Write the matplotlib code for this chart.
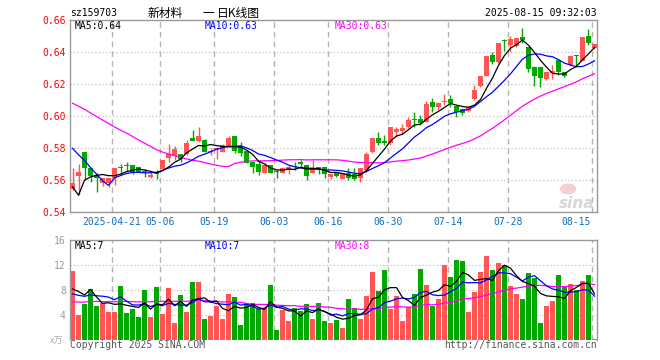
import numpy as np
import pandas as pd
import matplotlib

matplotlib.use("Agg")
import matplotlib.pyplot as plt
from matplotlib.patches import Ellipse

# daily K bars, 2025-04-10 .. 2025-08-15 (88 sessions)
opens = [
    0.5546, 0.5625, 0.5775, 0.5677, 0.5631, 0.5583, 0.5580, 0.5615, 0.5677, 0.5693,
    0.5693, 0.5679, 0.5652, 0.5617, 0.5640, 0.5667, 0.5735, 0.5752, 0.5763, 0.5761,
    0.5863, 0.5844, 0.5850, 0.5775, 0.5790, 0.5777, 0.5808, 0.5877, 0.5813, 0.5783,
    0.5715, 0.5700, 0.5646, 0.5694, 0.5652, 0.5646, 0.5663, 0.5684, 0.5715, 0.5694,
    0.5642, 0.5683, 0.5683, 0.5621, 0.5642, 0.5606, 0.5642, 0.5635, 0.5610, 0.5662,
    0.5777, 0.5865, 0.5844, 0.5829, 0.5902, 0.5908, 0.5929, 0.5979, 0.5979, 0.5965,
    0.6090, 0.6058, 0.6085, 0.6104, 0.6065, 0.6044, 0.6029, 0.6106, 0.6190, 0.6252,
    0.6381, 0.6335, 0.6477, 0.6446, 0.6440, 0.6496, 0.6433, 0.6304, 0.6308, 0.6231,
    0.6267, 0.6350, 0.6273, 0.6321, 0.6377, 0.6346, 0.6500, 0.6425,
]
highs = [
    0.5675, 0.5698, 0.5775, 0.5677, 0.5642, 0.5610, 0.5613, 0.5677, 0.5700, 0.5715,
    0.5693, 0.5679, 0.5669, 0.5652, 0.5662, 0.5727, 0.5823, 0.5815, 0.5763, 0.5852,
    0.5913, 0.5931, 0.5858, 0.5798, 0.5808, 0.5825, 0.5877, 0.5877, 0.5837, 0.5783,
    0.5715, 0.5720, 0.5704, 0.5694, 0.5663, 0.5683, 0.5694, 0.5715, 0.5725, 0.5694,
    0.5725, 0.5683, 0.5683, 0.5642, 0.5652, 0.5642, 0.5673, 0.5673, 0.5677, 0.5777,
    0.5865, 0.5902, 0.5881, 0.5933, 0.5933, 0.5948, 0.5996, 0.6027, 0.6006, 0.6096,
    0.6115, 0.6090, 0.6135, 0.6131, 0.6065, 0.6048, 0.6065, 0.6196, 0.6252, 0.6377,
    0.6398, 0.6454, 0.6481, 0.6502, 0.6490, 0.6550, 0.6433, 0.6315, 0.6308, 0.6277,
    0.6321, 0.6350, 0.6273, 0.6377, 0.6381, 0.6492, 0.6546, 0.6450,
]
lows = [
    0.5535, 0.5506, 0.5600, 0.5590, 0.5523, 0.5560, 0.5555, 0.5570, 0.5635, 0.5658,
    0.5640, 0.5648, 0.5621, 0.5610, 0.5606, 0.5663, 0.5715, 0.5725, 0.5715, 0.5757,
    0.5844, 0.5840, 0.5777, 0.5756, 0.5729, 0.5772, 0.5804, 0.5767, 0.5750, 0.5704,
    0.5646, 0.5629, 0.5642, 0.5642, 0.5610, 0.5642, 0.5638, 0.5663, 0.5673, 0.5600,
    0.5642, 0.5638, 0.5610, 0.5606, 0.5617, 0.5604, 0.5600, 0.5600, 0.5590, 0.5652,
    0.5767, 0.5819, 0.5819, 0.5819, 0.5871, 0.5888, 0.5923, 0.5933, 0.5944, 0.5965,
    0.6027, 0.6038, 0.6069, 0.6058, 0.5992, 0.6006, 0.6023, 0.6100, 0.6179, 0.6248,
    0.6325, 0.6329, 0.6408, 0.6398, 0.6433, 0.6454, 0.6273, 0.6190, 0.6179, 0.6225,
    0.6231, 0.6258, 0.6242, 0.6315, 0.6315, 0.6342, 0.6446, 0.6419,
]
closes = [
    0.5581, 0.5650, 0.5677, 0.5625, 0.5610, 0.5610, 0.5613, 0.5677, 0.5673, 0.5688,
    0.5652, 0.5652, 0.5648, 0.5631, 0.5636, 0.5727, 0.5760, 0.5796, 0.5734, 0.5830,
    0.5846, 0.5873, 0.5777, 0.5783, 0.5797, 0.5817, 0.5862, 0.5783, 0.5767, 0.5708,
    0.5683, 0.5648, 0.5694, 0.5642, 0.5648, 0.5677, 0.5683, 0.5680, 0.5702, 0.5625,
    0.5677, 0.5663, 0.5635, 0.5637, 0.5625, 0.5642, 0.5610, 0.5606, 0.5677, 0.5763,
    0.5865, 0.5833, 0.5829, 0.5929, 0.5917, 0.5923, 0.5975, 0.5975, 0.5954, 0.6075,
    0.6058, 0.6083, 0.6096, 0.6079, 0.6023, 0.6017, 0.6058, 0.6163, 0.6252, 0.6377,
    0.6335, 0.6454, 0.6471, 0.6483, 0.6487, 0.6477, 0.6294, 0.6248, 0.6235, 0.6273,
    0.6283, 0.6273, 0.6248, 0.6373, 0.6373, 0.6492, 0.6454, 0.6450,
]
# volume, 万手
volumes = [
    11.0, 4.0, 5.8, 8.2, 5.4, 5.9, 4.5, 4.5, 8.6, 4.3,
    5.0, 3.7, 8.0, 3.7, 8.5, 4.2, 8.3, 2.7, 7.2, 4.5,
    9.3, 9.3, 3.4, 3.8, 5.4, 3.4, 7.4, 6.9, 2.4, 5.9,
    5.9, 5.0, 5.1, 8.8, 1.6, 4.8, 3.0, 5.1, 4.6, 5.8,
    3.4, 5.9, 3.0, 2.7, 3.2, 1.9, 6.6, 5.1, 3.4, 7.0,
    10.9, 7.8, 11.2, 5.0, 7.0, 3.0, 5.3, 7.4, 11.4, 8.8,
    5.4, 6.6, 12.0, 10.1, 12.8, 12.6, 4.5, 7.7, 10.9, 13.4,
    11.2, 12.3, 12.0, 8.6, 7.3, 6.6, 10.7, 9.9, 2.7, 5.4,
    6.2, 10.4, 8.5, 9.0, 8.0, 9.4, 10.4, 0.2,
]

# the 29 sessions before the window are off-chart; these are backed out of
# where the MA lines start so the averages warm up like the original
prev_closes = [
    0.622, 0.626, 0.630, 0.628, 0.625, 0.629, 0.632, 0.627, 0.624, 0.628,
    0.630, 0.626, 0.623, 0.628, 0.616, 0.612, 0.609, 0.611, 0.608, 0.608,
    0.606, 0.603, 0.607, 0.602, 0.602, 0.591, 0.521, 0.552, 0.5565,
]
prev_volumes = [
    5.2, 6.1, 4.8, 5.5, 7.0, 4.6, 5.3, 6.2, 4.9, 5.8,
    5.1, 6.4, 4.7, 5.6, 5.0, 6.8, 4.5, 5.9, 5.3, 4.9,
    6.2, 7.4, 5.9, 6.8, 6.6, 6.0, 8.6, 3.7, 11.5,
]

date_idx = [7, 15, 24, 34, 43, 53, 63, 73, 87]
date_labels = ["2025-04-21", "05-06", "05-19", "06-03", "06-16",
               "06-30", "07-14", "07-28", "08-15"]

RED = "#ff5555"
GREEN = "#00a800"
GRID = "#b4b4b4"
FRAME = "#999999"
MONO = "DejaVu Sans Mono"
CJK = ["Noto Sans CJK SC", "DejaVu Sans"]


def moving_avg(prev, cur, n):
    s = pd.Series(list(prev) + list(cur), dtype=float)
    return s.rolling(n).mean().to_numpy()[len(prev):]


o = np.array(opens)
h = np.array(highs)
l = np.array(lows)
c = np.array(closes)
v = np.array(volumes)
x = np.arange(len(c))
colors = np.where(c >= o, RED, GREEN)

W, H = 660, 360
fig = plt.figure(figsize=(W / 100, H / 100), dpi=100)
ax = fig.add_axes([70 / W, 1 - 212 / H, 527 / W, 192 / H])
axv = fig.add_axes([70 / W, 1 - 340 / H, 527 / W, 100 / H])

xlim = (-0.42, len(c) - 1 + 0.42)
for a in (ax, axv):
    a.set_xlim(*xlim)
    a.set_xticks([])
    for s in a.spines.values():
        s.set_color(FRAME)
        s.set_linewidth(1.0)
    for i in date_idx:
        a.axvline(i - 0.42, color=GRID, lw=1.0, ls=(0, (4, 3)), zorder=0)

# price panel
ax.set_ylim(0.54, 0.66)
for yv in [0.56, 0.58, 0.60, 0.62, 0.64]:
    ax.axhline(yv, color=GRID, lw=0.8, ls=(0, (1, 2.2)), zorder=0)
ax.set_yticks([0.54, 0.56, 0.58, 0.60, 0.62, 0.64, 0.66])
ax.set_yticklabels([f"{t:.2f}" for t in ax.get_yticks()], family=MONO, fontsize=7, color="red")
ax.tick_params(axis="y", length=0, pad=3)

ax.vlines(x, l, h, colors=colors, lw=1.0, zorder=2)
ax.bar(x, np.maximum(np.abs(c - o), 0.0006), bottom=np.minimum(o, c),
       width=0.8, color=colors, lw=0, zorder=3)

ma5 = moving_avg(prev_closes, c, 5)
ma10 = moving_avg(prev_closes, c, 10)
ma30 = moving_avg(prev_closes, c, 30)
ax.plot(x, ma30, color="#ff00ff", lw=0.9, zorder=4)
ax.plot(x, ma10, color="#0000ff", lw=0.9, zorder=4)
ax.plot(x, ma5, color="black", lw=0.9, zorder=4)

for xa, txt, col in [(0.0095, f"MA5:{ma5[-1]:.2f}", "black"),
                     (0.256, f"MA10:{ma10[-1]:.2f}", "#0000ff"),
                     (0.503, f"MA30:{ma30[-1]:.2f}", "#ff00ff")]:
    ax.text(xa, 0.969, txt, transform=ax.transAxes, family=MONO, fontsize=7,
            color=col, va="center", ha="left")

trans = ax.get_xaxis_transform()
for i, lab in zip(date_idx, date_labels):
    ha = "right" if i == date_idx[-1] else "center"
    xpos = i - 0.42 if ha == "center" else i - 0.55
    ax.text(xpos, -0.052, lab, transform=trans, family=MONO, fontsize=7,
            color="#0a6fc8", ha=ha, va="center")

# sina watermark
ax.add_patch(Ellipse((0.945, 0.12), 0.028, 0.05, transform=ax.transAxes,
                     color="#f6d0d0", zorder=1))
ax.text(0.995, 0.045, "sina", transform=ax.transAxes, fontsize=11, style="italic",
        weight="bold", color="#d6d6d6", ha="right", va="center", zorder=1)

# volume panel
axv.set_ylim(0, 16)
axv.spines["bottom"].set_visible(False)
for yv in [4, 8, 12]:
    axv.axhline(yv, color=GRID, lw=0.8, ls=(0, (1, 2.2)), zorder=0)
axv.set_yticks([4, 8, 12, 16])
axv.set_yticklabels(["4", "8", "12", "16"], family=MONO, fontsize=7, color="#999999")
axv.tick_params(axis="y", length=0, pad=3)
axv.bar(x, v, width=0.8, color=colors, lw=0, zorder=2)

vma5 = moving_avg(prev_volumes, v, 5)
vma10 = moving_avg(prev_volumes, v, 10)
vma30 = moving_avg(prev_volumes, v, 30)
axv.plot(x, vma30, color="#ff00ff", lw=0.9, zorder=4)
axv.plot(x, vma10, color="#0000ff", lw=0.9, zorder=4)
axv.plot(x, vma5, color="black", lw=0.9, zorder=4)

for xa, txt, col in [(0.0095, f"MA5:{int(vma5[-1])}", "black"),
                     (0.256, f"MA10:{int(vma10[-1])}", "#0000ff"),
                     (0.503, f"MA30:{int(vma30[-1])}", "#ff00ff")]:
    axv.text(xa, 0.94, txt, transform=axv.transAxes, family=MONO, fontsize=7,
             color=col, va="center", ha="left")

# header / footer
hy = 1 - 13 / H
fig.text(70 / W, hy, "sz159703", family=MONO, fontsize=7, va="center", ha="left")
fig.text(148 / W, hy, "新材料", family=CJK, fontsize=8.5, va="center", ha="left")
fig.text(208 / W, hy, "一", family=CJK, fontsize=8.5, va="center", ha="center")
fig.text(217 / W, hy, "日K线图", family=CJK, fontsize=8.5, va="center", ha="left")
fig.text(597 / W, hy, "2025-08-15 09:32:03", family=MONO, fontsize=7,
         va="center", ha="right")
fig.text(70 / W, 1 - 345 / H, "Copyright 2025 SINA.COM", family=MONO, fontsize=7,
         color="#555555", va="center", ha="left")
fig.text(597 / W, 1 - 345 / H, "http://finance.sina.com.cn", family=MONO, fontsize=7,
         color="#555555", va="center", ha="right")
fig.text(63 / W, 1 - 341 / H, "x万", family=CJK, fontsize=6.5, color="#aaaaaa",
         va="center", ha="right")

fig.savefig("out.png", dpi=100)
